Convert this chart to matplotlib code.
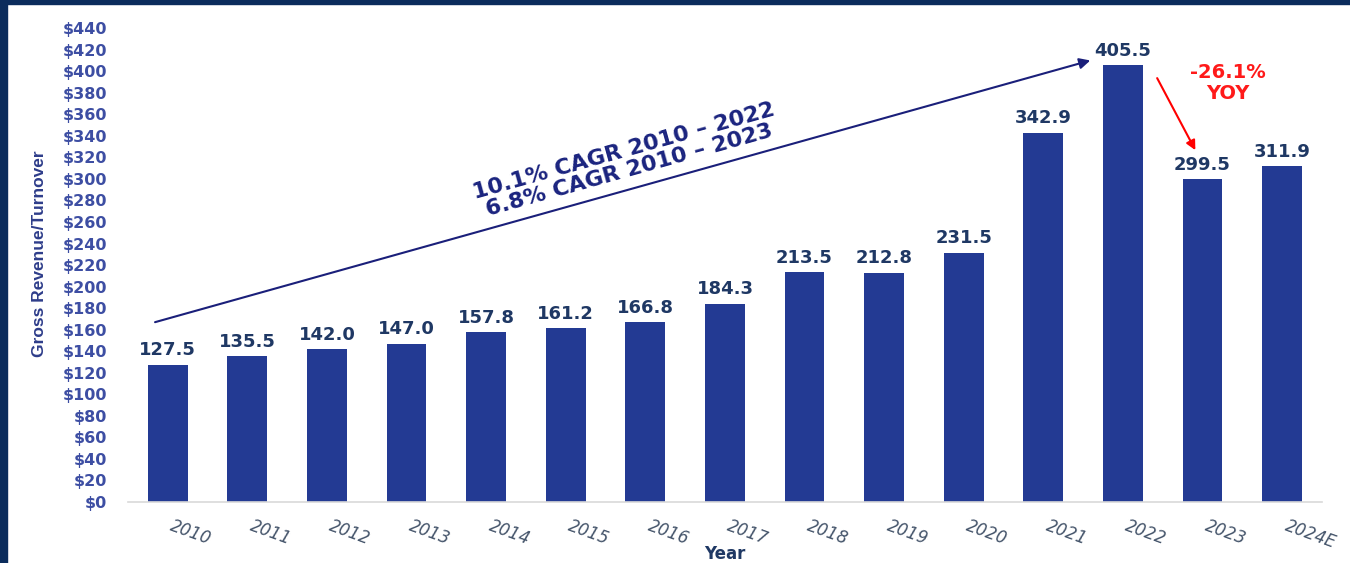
import matplotlib.pyplot as plt
from matplotlib import font_manager
from matplotlib.patches import Rectangle

# --- veri ---
years = ["2010", "2011", "2012", "2013", "2014", "2015", "2016", "2017",
         "2018", "2019", "2020", "2021", "2022", "2023", "2024E"]
revenue = [127.5, 135.5, 142.0, 147.0, 157.8, 161.2, 166.8, 184.3,
           213.5, 212.8, 231.5, 342.9, 405.5, 299.5, 311.9]
y_ticks = list(range(0, 441, 20))
cagr_text = "10.1% CAGR 2010 \u2013 2022\n6.8% CAGR 2010 \u2013 2023"
yoy_text = "-26.1%\nYOY"

BAR_COLOR = "#233a93"
LABEL_COLOR = "#1f3864"
TICK_COLOR = "#3d4ea3"
NAVY = "#0b2c5c"

# dar yazı tipi varsa y etiketi için onu kullan
font_names = {f.name for f in font_manager.fontManager.ttflist}
if "Liberation Sans Narrow" in font_names:
    ylab_font, ylab_size = "Liberation Sans Narrow", 14
else:
    ylab_font, ylab_size = "Liberation Sans", 12.5

fig = plt.figure(figsize=(13.5, 5.63), dpi=100)
ax = fig.add_axes([0.0948, 0.1083, 0.8844, 0.8417])

x = list(range(len(years)))
ax.bar(x, revenue, width=0.5, color=BAR_COLOR, zorder=2)

# değer etiketleri
for xi, v in zip(x, revenue):
    ax.annotate(f"{v:.1f}", (xi, v), xytext=(0, 4), textcoords="offset points",
                ha="center", va="bottom", fontsize=13, fontweight="bold",
                color=LABEL_COLOR)

ax.set_xlim(-0.5, 14.5)
ax.set_ylim(0, 440)
ax.set_yticks(y_ticks)
ax.set_yticklabels([f"${t}" for t in y_ticks], fontsize=11.5, fontweight="bold",
                   color=TICK_COLOR)
ax.set_xticks(x)
ax.set_xticklabels(years, rotation=-20, ha="left", fontsize=12, style="italic",
                   color="#44546a")
ax.tick_params(axis="both", length=0)
ax.tick_params(axis="y", pad=15)
ax.tick_params(axis="x", pad=11)

for s in ["top", "right", "left"]:
    ax.spines[s].set_visible(False)
ax.spines["bottom"].set_color("#d9d9d9")
ax.spines["bottom"].set_linewidth(1.2)

ax.set_xlabel("Year", fontsize=12, fontweight="bold", color=LABEL_COLOR)
ax.xaxis.set_label_coords(0.5, -0.09)
ax.set_ylabel("Gross Revenue/Turnover", fontsize=ylab_size, fontweight="bold",
              color="#2e3d8a", family=[ylab_font, "DejaVu Sans"])
ax.yaxis.set_label_coords(-0.068, 0.525)

# CAGR oku
ax.annotate("", xy=(11.59, 410), xytext=(-0.16, 167),
            arrowprops=dict(arrowstyle="-|>", color="#1a1f7a", lw=1.5,
                            mutation_scale=16, shrinkA=0, shrinkB=0))
ax.text(5.76, 317, cagr_text, rotation=15.6, ha="center", va="center",
        multialignment="center", fontsize=16, fontweight="bold",
        color="#1a237e", linespacing=1.0, rotation_mode="anchor")

# YOY oku
ax.annotate("", xy=(12.91, 326.7), xytext=(12.43, 393.6),
            arrowprops=dict(arrowstyle="-|>", color="#ff0000", lw=1.5,
                            mutation_scale=14, shrinkA=0, shrinkB=0))
ax.text(13.32, 389, yoy_text, ha="center", va="center", fontsize=14,
        fontweight="bold", color="#ff1a1a", linespacing=1.1)

# lacivert çerçeve (sol ve üst)
fig.patches.append(Rectangle((0, 0), 7 / 1350, 1, transform=fig.transFigure,
                             color=NAVY, zorder=10))
fig.patches.append(Rectangle((0, 1 - 4 / 563), 1, 4 / 563,
                             transform=fig.transFigure, color=NAVY, zorder=10))

fig.savefig("out.png", dpi=100)
